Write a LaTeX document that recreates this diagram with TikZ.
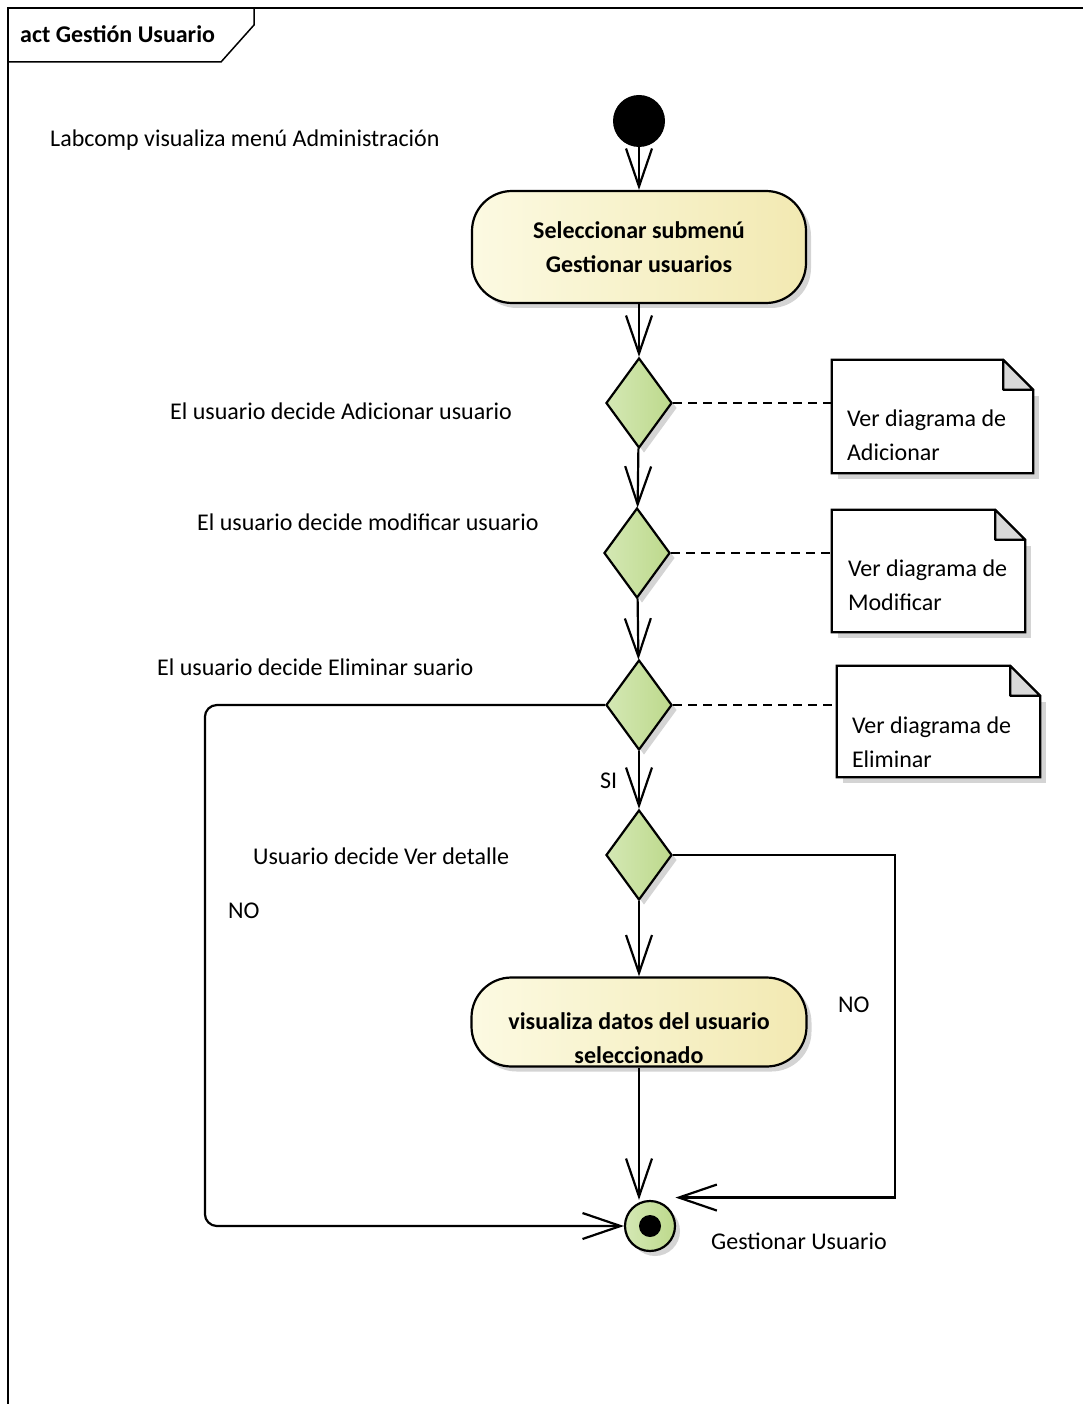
\documentclass[tikz,border=0pt]{standalone}
\usepackage{fontspec}
\setmainfont{Carlito}
\usetikzlibrary{shapes.geometric,arrows.meta,shadows}
\definecolor{actL}{HTML}{FCFAE2}
\definecolor{actR}{HTML}{F2E9B2}
\definecolor{decL}{HTML}{D4E8B4}
\definecolor{decR}{HTML}{BDD98C}
\definecolor{shgray}{HTML}{D4D4D4}
\definecolor{foldgray}{HTML}{D9D9D9}
\newcommand\notefold[1]{%
  \fill[shgray] ([shift={(6,36)}]#1.north west) rectangle ([shift={(6,6)}]#1.south east);
  \filldraw[fill=white, line width=2.2pt] (#1.north west) -- ([xshift=-30pt]#1.north east) -- ([yshift=-30pt]#1.north east) -- (#1.south east) -- (#1.south west) -- cycle;
  \filldraw[fill=foldgray, line width=2.2pt, line join=round] ([xshift=-30pt]#1.north east) -- ([xshift=-30pt,yshift=-30pt]#1.north east) -- ([yshift=-30pt]#1.north east) -- cycle;
}
\begin{document}
\begin{tikzpicture}[x=1pt,y=-1pt,
  every node/.style={font=\fontsize{24}{34}\selectfont},
  shd/.style={drop shadow={shadow xshift=5pt, shadow yshift=-5pt, fill=shgray, opacity=1}},
  action/.style={draw, line width=2.2pt, rounded corners=40pt, left color=actL, right color=actR, shd, inner sep=0pt, align=center, font=\fontsize{24}{34}\selectfont\bfseries},
  decision/.style={diamond, draw, line width=2.2pt, left color=decL, right color=decR, shd, inner sep=0pt, minimum width=66pt, minimum height=90pt},
  notebox/.style={inner sep=0pt},
  notetext/.style={anchor=north west, inner sep=0pt, align=left},
  lbl/.style={anchor=base west, inner sep=0pt},
  flow/.style={line width=2.2pt, -{Straight Barb[length=38pt,width=26pt,line width=2.2pt]}},
  dashline/.style={line width=2.2pt, dash pattern=on 9pt off 6pt}
]
\useasboundingbox (0,0) rectangle (1083,1404);
% frame
\draw[line width=2pt] (1083,8) -- (8,8) -- (8,1404);
\draw[line width=1.5pt] (8,62) -- (221,62) -- (254,25) -- (254,8);
\node[lbl, font=\fontsize{24}{28}\selectfont\bfseries] (title) at (20,43) {act Gestión Usuario};

% nodes
\node[circle, fill=black, minimum size=52pt, inner sep=0pt] (start) at (639,121) {};
\node[action, minimum width=334pt, minimum height=112pt] (act1) at (639,247) {Seleccionar submenú\\Gestionar usuarios};
\node[decision] (d1) at (639,403) {};
\node[decision] (d2) at (637,553) {};
\node[decision] (d3) at (639,705) {};
\node[decision] (d4) at (639,855) {};
\node[action, minimum width=335pt, minimum height=89pt] (act2) at (639,1022) {};
\node[anchor=center, inner sep=0pt, align=center, font=\fontsize{24}{34}\selectfont\bfseries] (act2txt) at (639,1038) {visualiza datos del usuario\\seleccionado};
\node[circle, draw, line width=2.2pt, left color=decL, right color=decR, shd, minimum size=50pt, inner sep=0pt] (fin) at (650,1226) {};
\node[circle, fill=black, minimum size=22pt, inner sep=0pt] (findot) at (fin.center) {};

% notes
\node[notebox, minimum width=201pt, minimum height=113pt] (n1) at (932.5,416.5) {};
\node[notebox, minimum width=193pt, minimum height=122pt] (n2) at (928.5,571) {};
\node[notebox, minimum width=203pt, minimum height=111pt] (n3) at (938.5,721.5) {};
\notefold{n1}
\notefold{n2}
\notefold{n3}
\node[notetext] (n1t) at ([shift={(15,50)}]n1.north west) {Ver diagrama de\\Adicionar};
\node[notetext] (n2t) at ([shift={(16,50)}]n2.north west) {Ver diagrama de\\Modificar};
\node[notetext] (n3t) at ([shift={(15,51)}]n3.north west) {Ver diagrama de\\Eliminar};

% dashed links
\draw[dashline] (d1.east) -- (d1.east -| n1.west);
\draw[dashline] (d2.east) -- (d2.east -| n2.west);
\draw[dashline] (d3.east) -- (d3.east -| n3.west);

% flows
\draw[flow] (start) -- (act1);
\draw[flow] (act1) -- (d1);
\draw[flow] (d1) -- (d2);
\draw[flow] (d2) -- (d3);
\draw[flow] (d3) -- (d4);
\draw[flow] (d4) -- (act2);
\draw[flow] (act2.south) -- (act2.south |- fin.north);
\draw[flow, rounded corners=12pt] (d3.west) -- ++(-400,0) |- (fin.west);
\draw[flow] (d4.east) -- ++(222,0) |- ([shift={(7,-10)}]fin.north east);

% labels
\node[lbl] (l0) at (50,147) {Labcomp visualiza menú Administración};
\node[lbl] (l1) at (170,419) {El usuario decide Adicionar usuario};
\node[lbl] (l2) at (197,530) {El usuario decide modificar usuario};
\node[lbl] (l3) at (157,675) {El usuario decide Eliminar suario};
\node[lbl] (l4) at (253,864) {Usuario decide Ver detalle};
\node[lbl] (si) at (600,788) {SI};
\node[lbl] (no1) at (228,918) {NO};
\node[lbl] (no2) at (838,1012) {NO};
\node[lbl] (l5) at (711,1249) {Gestionar Usuario};
\end{tikzpicture}
\end{document}
